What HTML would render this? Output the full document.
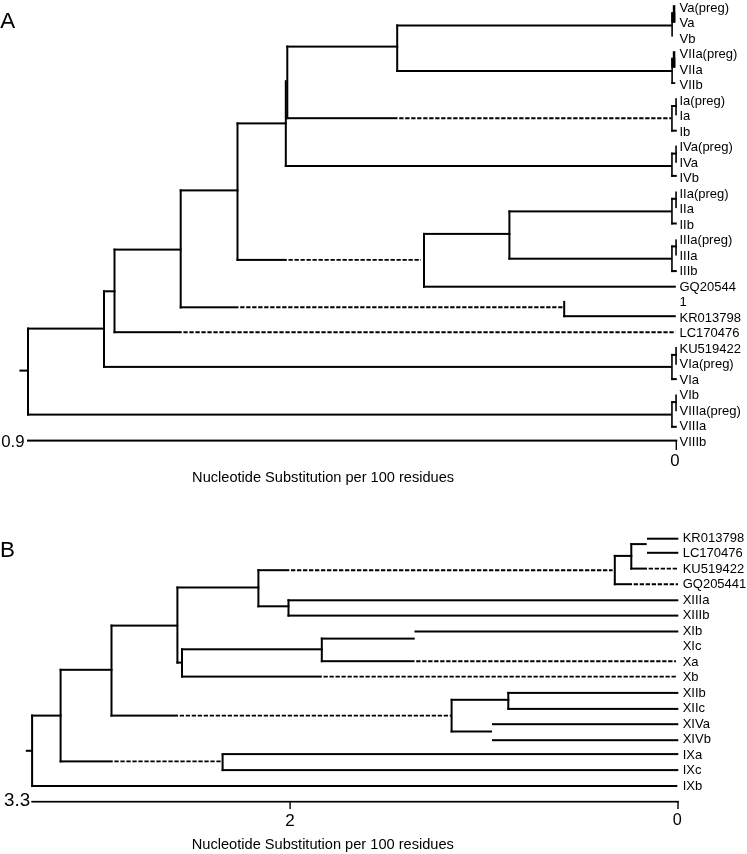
<!DOCTYPE html>
<html><head><meta charset="utf-8"><style>
html,body{margin:0;padding:0;background:#fff;}
body{width:747px;height:854px;overflow:hidden;}
svg{display:block;will-change:transform;}
text{font-family:"Liberation Sans",sans-serif;fill:#000;}
rect{fill:#000;}
line.d{stroke:#000;}
</style></head><body>
<svg width="747" height="854" viewBox="0 0 747 854">
<rect x="0" y="0" width="747" height="854" style="fill:#fff"/>
<rect x="19.40" y="369.60" width="8.60" height="2.0"/>
<rect x="27.00" y="327.60" width="2.0" height="88.00"/>
<rect x="27.00" y="327.60" width="78.00" height="2.0"/>
<rect x="27.00" y="413.60" width="645.00" height="2.0"/>
<rect x="103.00" y="290.30" width="2.0" height="77.40"/>
<rect x="103.00" y="290.30" width="12.50" height="2.0"/>
<rect x="103.00" y="365.90" width="569.00" height="2.0"/>
<rect x="113.50" y="248.60" width="2.0" height="84.60"/>
<rect x="113.50" y="248.60" width="68.20" height="2.0"/>
<rect x="113.50" y="331.20" width="68.20" height="2.0"/>
<line x1="181.70" y1="332.20" x2="675.50" y2="332.20" stroke-width="1.9" stroke-dasharray="4.3 1.7" stroke-dashoffset="4.3" class="d"/>
<rect x="179.70" y="189.40" width="2.0" height="119.10"/>
<rect x="179.70" y="189.40" width="58.80" height="2.0"/>
<rect x="179.70" y="306.30" width="58.80" height="2.0"/>
<line x1="238.50" y1="307.30" x2="564.00" y2="307.30" stroke-width="1.9" stroke-dasharray="4.3 1.7" stroke-dashoffset="4.3" class="d"/>
<rect x="563.20" y="300.90" width="2.0" height="16.30"/>
<rect x="563.20" y="315.20" width="112.60" height="2.0"/>
<rect x="236.50" y="122.40" width="2.0" height="138.40"/>
<rect x="236.50" y="122.40" width="50.30" height="2.0"/>
<rect x="236.50" y="258.90" width="50.30" height="2.0"/>
<line x1="286.80" y1="259.90" x2="421.00" y2="259.90" stroke-width="1.9" stroke-dasharray="4.3 1.7" stroke-dashoffset="4.3" class="d"/>
<rect x="423.00" y="232.90" width="2.0" height="54.80"/>
<rect x="423.00" y="232.90" width="87.40" height="2.0"/>
<rect x="423.00" y="285.70" width="252.80" height="2.0"/>
<rect x="508.40" y="210.40" width="2.0" height="49.20"/>
<rect x="508.40" y="210.40" width="163.60" height="2.0"/>
<rect x="508.40" y="257.70" width="163.60" height="2.0"/>
<rect x="284.80" y="80.20" width="2.0" height="86.80"/>
<rect x="286.30" y="45.50" width="2.0" height="73.70"/>
<rect x="284.80" y="165.00" width="387.20" height="2.0"/>
<rect x="286.30" y="117.20" width="111.20" height="2.0"/>
<line x1="397.50" y1="118.20" x2="671.20" y2="118.20" stroke-width="1.9" stroke-dasharray="4.3 1.7" stroke-dashoffset="4.3" class="d"/>
<rect x="286.30" y="45.60" width="111.90" height="2.0"/>
<rect x="396.20" y="24.40" width="2.0" height="47.60"/>
<rect x="396.20" y="24.50" width="275.80" height="2.0"/>
<rect x="396.20" y="70.00" width="275.80" height="2.0"/>
<rect x="671.30" y="12.30" width="1.60" height="24.30"/>
<rect x="671.30" y="12.30" width="4.00" height="10.30"/>
<rect x="672.80" y="5.20" width="2.50" height="17.40"/>
<rect x="671.30" y="57.80" width="1.60" height="26.10"/>
<rect x="671.30" y="82.20" width="4.00" height="1.70"/>
<rect x="671.30" y="57.80" width="4.00" height="9.80"/>
<rect x="672.80" y="51.20" width="2.50" height="16.40"/>
<rect x="675.25" y="98.20" width="1.6" height="17.20"/>
<rect x="671.20" y="105.00" width="5.60" height="2.0"/>
<rect x="671.15" y="105.00" width="1.6" height="26.70"/>
<rect x="671.20" y="129.70" width="5.60" height="2.0"/>
<rect x="675.25" y="145.60" width="1.6" height="17.20"/>
<rect x="671.20" y="152.60" width="5.60" height="2.0"/>
<rect x="671.15" y="152.60" width="1.6" height="24.30"/>
<rect x="671.20" y="174.90" width="5.60" height="2.0"/>
<rect x="675.25" y="191.50" width="1.6" height="16.60"/>
<rect x="671.20" y="197.80" width="5.60" height="2.0"/>
<rect x="671.15" y="197.80" width="1.6" height="26.70"/>
<rect x="671.20" y="222.50" width="5.60" height="2.0"/>
<rect x="675.25" y="239.40" width="1.6" height="16.10"/>
<rect x="671.20" y="245.40" width="5.60" height="2.0"/>
<rect x="671.15" y="245.40" width="1.6" height="26.70"/>
<rect x="671.20" y="270.10" width="5.60" height="2.0"/>
<rect x="675.25" y="347.00" width="1.6" height="17.70"/>
<rect x="671.20" y="353.90" width="5.60" height="2.0"/>
<rect x="671.15" y="353.90" width="1.6" height="26.20"/>
<rect x="671.20" y="378.10" width="5.60" height="2.0"/>
<rect x="675.25" y="394.50" width="1.6" height="16.70"/>
<rect x="671.20" y="401.10" width="5.60" height="2.0"/>
<rect x="671.15" y="401.10" width="1.6" height="26.70"/>
<rect x="671.20" y="425.80" width="5.60" height="2.0"/>
<rect x="27.00" y="439.60" width="650.30" height="2.0"/>
<rect x="675.60" y="440.00" width="1.4" height="10.00"/>
<text x="679.5" y="11.9" font-size="13">Va(preg)</text>
<text x="679.5" y="27.4" font-size="13">Va</text>
<text x="679.5" y="42.9" font-size="13">Vb</text>
<text x="679.5" y="58.4" font-size="13">VIIa(preg)</text>
<text x="679.5" y="73.9" font-size="13">VIIa</text>
<text x="679.5" y="89.4" font-size="13">VIIb</text>
<text x="679.5" y="104.9" font-size="13">Ia(preg)</text>
<text x="679.5" y="120.4" font-size="13">Ia</text>
<text x="679.5" y="135.9" font-size="13">Ib</text>
<text x="679.5" y="151.4" font-size="13">IVa(preg)</text>
<text x="679.5" y="166.9" font-size="13">IVa</text>
<text x="679.5" y="182.4" font-size="13">IVb</text>
<text x="679.5" y="197.9" font-size="13">IIa(preg)</text>
<text x="679.5" y="213.4" font-size="13">IIa</text>
<text x="679.5" y="228.9" font-size="13">IIb</text>
<text x="679.5" y="244.4" font-size="13">IIIa(preg)</text>
<text x="679.5" y="259.9" font-size="13">IIIa</text>
<text x="679.5" y="275.4" font-size="13">IIIb</text>
<text x="679.5" y="290.9" font-size="13">GQ20544</text>
<text x="679.5" y="306.4" font-size="13">1</text>
<text x="679.5" y="321.9" font-size="13">KR013798</text>
<text x="679.5" y="337.4" font-size="13">LC170476</text>
<text x="679.5" y="352.9" font-size="13">KU519422</text>
<text x="679.5" y="368.4" font-size="13">VIa(preg)</text>
<text x="679.5" y="383.9" font-size="13">VIa</text>
<text x="679.5" y="399.4" font-size="13">VIb</text>
<text x="679.5" y="414.9" font-size="13">VIIIa(preg)</text>
<text x="679.5" y="430.4" font-size="13">VIIIa</text>
<text x="679.5" y="445.9" font-size="13">VIIIb</text>
<text x="0.25" y="28.0" font-size="22.4">A</text>
<text x="1.2" y="446.7" font-size="16.8">0.9</text>
<text x="675" y="466" font-size="16.8" text-anchor="middle">0</text>
<text x="192.11100000000002" y="482.0" font-size="14.6">Nucleotide Substitution per 100 residues</text>
<rect x="25.80" y="749.80" width="6.70" height="2.0"/>
<rect x="31.10" y="714.60" width="2.0" height="72.40"/>
<rect x="31.00" y="785.00" width="646.30" height="2.0"/>
<rect x="31.00" y="714.60" width="30.60" height="2.0"/>
<rect x="59.60" y="668.80" width="2.0" height="93.60"/>
<rect x="59.60" y="760.40" width="53.10" height="2.0"/>
<line x1="112.70" y1="761.40" x2="222.20" y2="761.40" stroke-width="1.9" stroke-dasharray="4.3 1.7" stroke-dashoffset="4.3" class="d"/>
<rect x="221.60" y="753.90" width="2.0" height="17.20"/>
<rect x="221.60" y="753.10" width="456.70" height="2.0"/>
<rect x="221.60" y="769.10" width="456.70" height="2.0"/>
<rect x="59.60" y="668.80" width="52.90" height="2.0"/>
<rect x="110.50" y="624.60" width="2.0" height="92.00"/>
<rect x="110.50" y="714.60" width="67.50" height="2.0"/>
<line x1="178.00" y1="715.60" x2="451.00" y2="715.60" stroke-width="1.9" stroke-dasharray="4.3 1.7" stroke-dashoffset="4.3" class="d"/>
<rect x="450.60" y="698.80" width="2.0" height="33.70"/>
<rect x="450.60" y="698.80" width="58.70" height="2.0"/>
<rect x="507.30" y="691.90" width="2.0" height="18.00"/>
<rect x="507.30" y="691.90" width="171.00" height="2.0"/>
<rect x="507.30" y="707.90" width="171.00" height="2.0"/>
<rect x="450.60" y="730.50" width="41.40" height="2.0"/>
<rect x="492.00" y="723.20" width="186.30" height="2.0"/>
<rect x="492.00" y="739.20" width="186.30" height="2.0"/>
<rect x="110.50" y="624.60" width="67.70" height="2.0"/>
<rect x="176.40" y="586.50" width="2.0" height="77.10"/>
<rect x="176.40" y="586.50" width="83.00" height="2.0"/>
<rect x="257.40" y="569.20" width="2.0" height="38.10"/>
<rect x="257.40" y="569.20" width="31.90" height="2.0"/>
<line x1="289.30" y1="570.20" x2="612.60" y2="570.20" stroke-width="1.9" stroke-dasharray="4.3 1.7" stroke-dashoffset="4.3" class="d"/>
<rect x="613.80" y="554.90" width="2.0" height="30.30"/>
<rect x="613.80" y="554.90" width="18.50" height="2.0"/>
<rect x="630.30" y="543.10" width="2.0" height="26.50"/>
<rect x="630.30" y="543.10" width="16.40" height="2.0"/>
<rect x="647.00" y="537.70" width="31.30" height="2.0"/>
<rect x="647.00" y="551.80" width="31.30" height="2.0"/>
<rect x="630.30" y="567.60" width="16.70" height="2.0"/>
<line x1="647.00" y1="568.60" x2="677.10" y2="568.60" stroke-width="1.9" stroke-dasharray="4.3 1.7" stroke-dashoffset="4.3" class="d"/>
<rect x="613.80" y="583.20" width="18.20" height="2.0"/>
<line x1="632.00" y1="584.20" x2="678.00" y2="584.20" stroke-width="1.9" stroke-dasharray="4.3 1.7" stroke-dashoffset="4.3" class="d"/>
<rect x="257.40" y="605.30" width="32.10" height="2.0"/>
<rect x="287.50" y="599.30" width="2.0" height="17.30"/>
<rect x="287.50" y="599.30" width="390.80" height="2.0"/>
<rect x="287.50" y="614.60" width="390.80" height="2.0"/>
<rect x="176.40" y="661.60" width="6.60" height="2.0"/>
<rect x="181.00" y="648.30" width="2.0" height="29.30"/>
<rect x="181.00" y="648.30" width="141.80" height="2.0"/>
<rect x="320.80" y="637.60" width="2.0" height="24.60"/>
<rect x="320.80" y="637.60" width="93.90" height="2.0"/>
<rect x="414.50" y="630.50" width="263.80" height="2.0"/>
<rect x="320.80" y="660.20" width="93.70" height="2.0"/>
<line x1="414.50" y1="661.20" x2="676.00" y2="661.20" stroke-width="1.9" stroke-dasharray="4.3 1.7" stroke-dashoffset="4.3" class="d"/>
<rect x="181.00" y="675.60" width="140.80" height="2.0"/>
<line x1="321.80" y1="676.60" x2="676.00" y2="676.60" stroke-width="1.9" stroke-dasharray="4.3 1.7" stroke-dashoffset="4.3" class="d"/>
<rect x="31.30" y="800.85" width="647.40" height="1.7"/>
<rect x="289.40" y="801.00" width="1.4" height="8.00"/>
<rect x="677.30" y="801.00" width="1.4" height="8.00"/>
<text x="682.7" y="541.5" font-size="13">KR013798</text>
<text x="682.7" y="557.0" font-size="13">LC170476</text>
<text x="682.7" y="572.5" font-size="13">KU519422</text>
<text x="682.7" y="588.0" font-size="13">GQ205441</text>
<text x="682.7" y="603.5" font-size="13">XIIIa</text>
<text x="682.7" y="619.0" font-size="13">XIIIb</text>
<text x="682.7" y="634.5" font-size="13">XIb</text>
<text x="682.7" y="650.0" font-size="13">XIc</text>
<text x="682.7" y="665.5" font-size="13">Xa</text>
<text x="682.7" y="681.0" font-size="13">Xb</text>
<text x="682.7" y="696.5" font-size="13">XIIb</text>
<text x="682.7" y="712.0" font-size="13">XIIc</text>
<text x="682.7" y="727.5" font-size="13">XIVa</text>
<text x="682.7" y="743.0" font-size="13">XIVb</text>
<text x="682.7" y="758.5" font-size="13">IXa</text>
<text x="682.7" y="774.0" font-size="13">IXc</text>
<text x="682.7" y="789.5" font-size="13">IXb</text>
<text x="0.1" y="556.9" font-size="22.4">B</text>
<text x="4.0" y="806" font-size="18.8">3.3</text>
<text x="290.1" y="825.5" font-size="17" text-anchor="middle">2</text>
<text x="677.2" y="825.3" font-size="16.2" text-anchor="middle">0</text>
<text x="191.811" y="848.7" font-size="14.6">Nucleotide Substitution per 100 residues</text>
</svg>
</body></html>
